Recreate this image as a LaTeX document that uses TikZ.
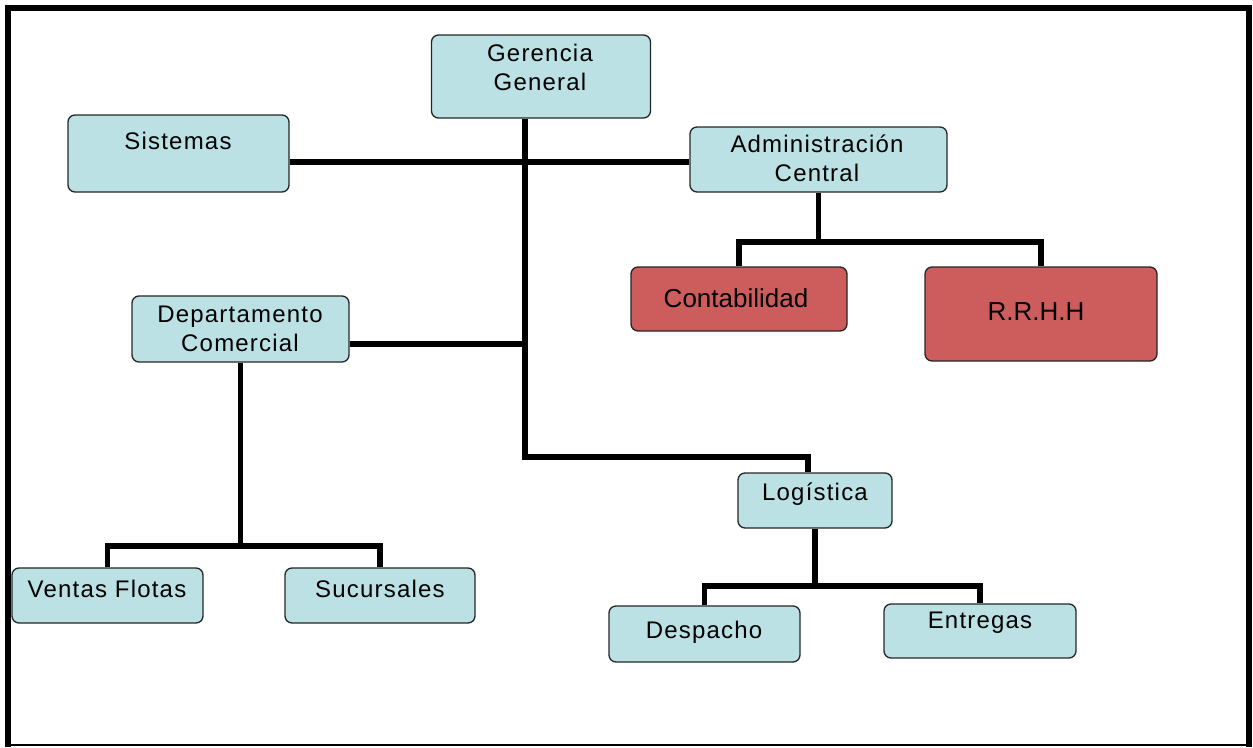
\documentclass[tikz,border=0pt]{standalone}
\usepackage{fontspec}
\usetikzlibrary{backgrounds}
\setmainfont{Liberation Sans}
\newfontfamily\boxfont[LetterSpace=5]{Liberation Sans}
\definecolor{boxblue}{RGB}{187,225,229}
\definecolor{boxred}{RGB}{205,92,92}
\tikzset{
  box/.style={draw=black!85, line width=1.3pt, rounded corners=7pt, fill=boxblue, inner sep=0pt},
  redbox/.style={box, fill=boxred},
  lbl/.style={font=\boxfont\fontsize{24}{29}\selectfont, align=center, inner sep=0pt},
  rlbl/.style={font=\fontsize{26}{30}\selectfont, align=center, inner sep=0pt},
  conn/.style={line width=5.5pt},
}
\begin{document}
\begin{tikzpicture}[x=1pt,y=-1pt]
\useasboundingbox (0,0) rectangle (1253,747);
% frame
\draw[line width=6pt] (8,747) -- (8,8) -- (1249,8) -- (1249,747);
\draw[line width=1.5pt] (8,745) -- (1249,745);
% junctions
\coordinate (j1) at (525,162);
\coordinate (j2) at (525,344);
\coordinate (j3) at (525,457);
\coordinate (j4) at (808,457);
\coordinate (a1) at (818.5,242);
\coordinate (d1) at (240.5,546);
\coordinate (l1) at (815,586);
% boxes
\node[box, minimum width=219pt, minimum height=83pt] (ger) at (541,76.5) {};
\node[box, minimum width=221pt, minimum height=77pt] (sis) at (178.5,153.5) {};
\node[box, minimum width=257pt, minimum height=65pt] (adm) at (818.5,159.5) {};
\node[redbox, minimum width=216pt, minimum height=64pt] (con) at (739,299) {};
\node[redbox, minimum width=232pt, minimum height=94pt] (rrh) at (1041,314) {};
\node[box, minimum width=217pt, minimum height=66pt] (dep) at (240.5,329) {};
\node[box, minimum width=154pt, minimum height=55pt] (log) at (815,500.5) {};
\node[box, minimum width=191pt, minimum height=55pt] (ven) at (107.5,595.5) {};
\node[box, minimum width=190pt, minimum height=55pt] (suc) at (380,595.5) {};
\node[box, minimum width=191pt, minimum height=56pt] (des) at (704.5,634) {};
\node[box, minimum width=192pt, minimum height=54pt] (ent) at (980,631) {};
% connectors
\begin{scope}[on background layer]
\draw[conn] (ger.south -| j1) -- (j3) -- (j4) -- (j4 |- log.north);
\draw[conn] (sis.east |- j1) -- (adm.west |- j1);
\draw[conn] (dep.east |- j2) -- (j2);
\draw[conn] (adm.south) -- (a1);
\draw[conn] (con.north) |- (a1) -| (rrh.north);
\draw[conn] (dep.south) -- (d1);
\draw[conn] (ven.north) |- (d1) -| (suc.north);
\draw[conn] (log.south) -- (l1);
\draw[conn] (des.north) |- (l1) -| (ent.north);
\end{scope}
% labels
\node[lbl] (tger) at (540,67.5) {Gerencia\\General};
\node[lbl] (tsis) at (178,141) {Sistemas};
\node[lbl] (tadm) at (817,158.5) {Administración\\Central};
\node[rlbl] (tcon) at (736,298) {Contabilidad};
\node[rlbl] (trrh) at (1036,312) {R.R.H.H};
\node[lbl] (tdep) at (240,329) {Departamento\\Comercial};
\node[lbl] (tlog) at (815,494) {Logística};
\node[lbl] (tven) at (107,589) {Ventas Flotas};
\node[lbl] (tsuc) at (380,589) {Sucursales};
\node[lbl] (tdes) at (704,632) {Despacho};
\node[lbl] (tent) at (980,623) {Entregas};
\end{tikzpicture}
\end{document}
